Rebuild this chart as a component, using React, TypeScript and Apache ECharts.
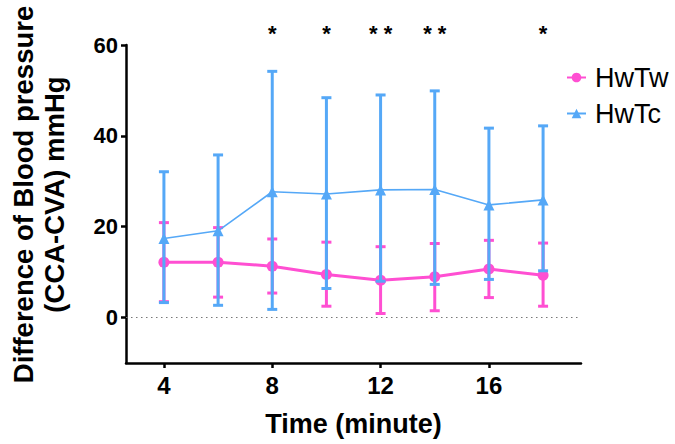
import React, { useEffect, useRef } from "react";
import * as echarts from "echarts";

const times = [4, 6, 8, 10, 12, 14, 16, 18];
const hwTwMean = [12.2, 12.2, 11.3, 9.5, 8.2, 9.0, 10.7, 9.3];
const hwTwLow = [3.5, 4.5, 5.4, 2.5, 0.9, 1.5, 4.4, 2.5];
const hwTwHigh = [20.9, 19.8, 17.3, 16.6, 15.6, 16.3, 17.0, 16.4];
const hwTcMean = [17.4, 19.1, 27.7, 27.2, 28.1, 28.2, 24.8, 25.9];
const hwTcLow = [3.3, 2.7, 1.8, 6.4, 8.0, 7.3, 8.4, 10.3];
const hwTcHigh = [32.1, 35.8, 54.2, 48.4, 49.0, 49.9, 41.7, 42.2];
const xTicks = [4, 8, 12, 16];
const yTicks = [0, 20, 40, 60];
const starTimes = [8, 10, 12, 14, 18];
const starLabels = ["*", "*", "* *", "* *", "*"];

const PINK = "#ff4fd2";
const BLUE = "#55a8f7";
const FONT = "'Liberation Sans', Arial, Helvetica, sans-serif";

function errorBarSeries(name: string, color: string, low: number[], high: number[], z: number) {
  return {
    name,
    type: "custom",
    z,
    data: times.map((t, i) => [t, low[i], high[i]]),
    encode: { x: 0, y: [1, 2] },
    silent: true,
    renderItem: (params: any, api: any) => {
      const x = api.value(0);
      const top = api.coord([x, api.value(2)]);
      const bot = api.coord([x, api.value(1)]);
      const w = 5;
      const style = { stroke: color, lineWidth: 3 };
      return {
        type: "group",
        children: [
          { type: "line", shape: { x1: top[0], y1: top[1], x2: bot[0], y2: bot[1] }, style },
          { type: "line", shape: { x1: top[0] - w, y1: top[1], x2: top[0] + w, y2: top[1] }, style },
          { type: "line", shape: { x1: bot[0] - w, y1: bot[1], x2: bot[0] + w, y2: bot[1] }, style },
        ],
      };
    },
  };
}

export default function App() {
  const ref = useRef<HTMLDivElement>(null);
  useEffect(() => {
    document.body.style.margin = "0";
    if (!ref.current) return;
    const chart = echarts.init(ref.current, null, { renderer: "svg" });
    const axisLine = { show: true, onZero: false, lineStyle: { color: "#000", width: 2.5 } };
    const tickStyle = { show: true, length: 5, lineStyle: { color: "#000", width: 2.5 } };
    chart.setOption({
      animation: false,
      textStyle: { fontFamily: FONT },
      grid: { left: 105, right: 94, top: 45, bottom: 81, containLabel: false },
      legend: {
        data: ["HwTw", "HwTc"],
        orient: "vertical",
        left: 561,
        top: 59,
        itemWidth: 19,
        itemHeight: 12,
        itemGap: 9,
        textStyle: { fontSize: 27, color: "#000", fontFamily: FONT, padding: [0, 0, 0, 4] },
      },
      xAxis: [
        {
          type: "value",
          min: 2.6,
          max: 19.4,
          interval: 0.2,
          splitLine: { show: false },
          axisLine,
          axisTick: { ...tickStyle, customValues: xTicks },
          axisLabel: {
            customValues: xTicks,
            fontSize: 24,
            fontWeight: "bold",
            color: "#000",
            margin: 10,
            fontFamily: FONT,
          },
          name: "Time (minute)",
          nameLocation: "middle",
          nameGap: 47,
          nameTextStyle: { fontSize: 27, fontWeight: "bold", color: "#000", fontFamily: FONT },
        },
        {
          type: "value",
          position: "top",
          min: 2.6,
          max: 19.4,
          interval: 0.2,
          splitLine: { show: false },
          axisLine: { show: false },
          axisTick: { show: false },
          axisLabel: {
            customValues: starTimes,
            formatter: (v: number) => {
              const i = starTimes.indexOf(Math.round(v));
              return i >= 0 ? starLabels[i] : "";
            },
            fontSize: 22,
            fontWeight: "bold",
            color: "#000",
            margin: 1,
            fontFamily: FONT,
          },
        },
      ],
      yAxis: {
        type: "value",
        min: -10,
        max: 60,
        interval: 10,
        splitLine: { show: false },
        axisLine,
        axisTick: { ...tickStyle, customValues: yTicks },
        axisLabel: {
          customValues: yTicks,
          fontSize: 22,
          fontWeight: "bold",
          color: "#000",
          margin: 8,
          fontFamily: FONT,
        },
        name: "Difference of Blood pressure\n(CCA-CVA) mmHg",
        nameLocation: "middle",
        nameGap: 56,
        nameTextStyle: {
          fontSize: 27.5,
          fontWeight: "bold",
          color: "#000",
          fontFamily: FONT,
          lineHeight: 31,
          padding: [0, 0, 0, 19],
        },
      },
      series: [
        errorBarSeries("HwTw SD", PINK, hwTwLow, hwTwHigh, 2),
        {
          name: "HwTw",
          type: "line",
          z: 3,
          data: times.map((t, i) => [t, hwTwMean[i]]),
          symbol: "circle",
          symbolSize: 11,
          itemStyle: { color: PINK },
          lineStyle: { color: PINK, width: 3 },
          markLine: {
            silent: true,
            symbol: "none",
            label: { show: false },
            lineStyle: { color: "#777", width: 1, type: [1.5, 3.5] },
            data: [{ yAxis: 0 }],
          },
        },
        errorBarSeries("HwTc SD", BLUE, hwTcLow, hwTcHigh, 4),
        {
          name: "HwTc",
          type: "line",
          z: 5,
          data: times.map((t, i) => [t, hwTcMean[i]]),
          symbol: "triangle",
          symbolSize: 11,
          itemStyle: { color: BLUE },
          lineStyle: { color: BLUE, width: 1.6 },
        },
      ],
    });
    return () => chart.dispose();
  }, []);
  return <div ref={ref} style={{ width: 675, height: 444 }} />;
}
